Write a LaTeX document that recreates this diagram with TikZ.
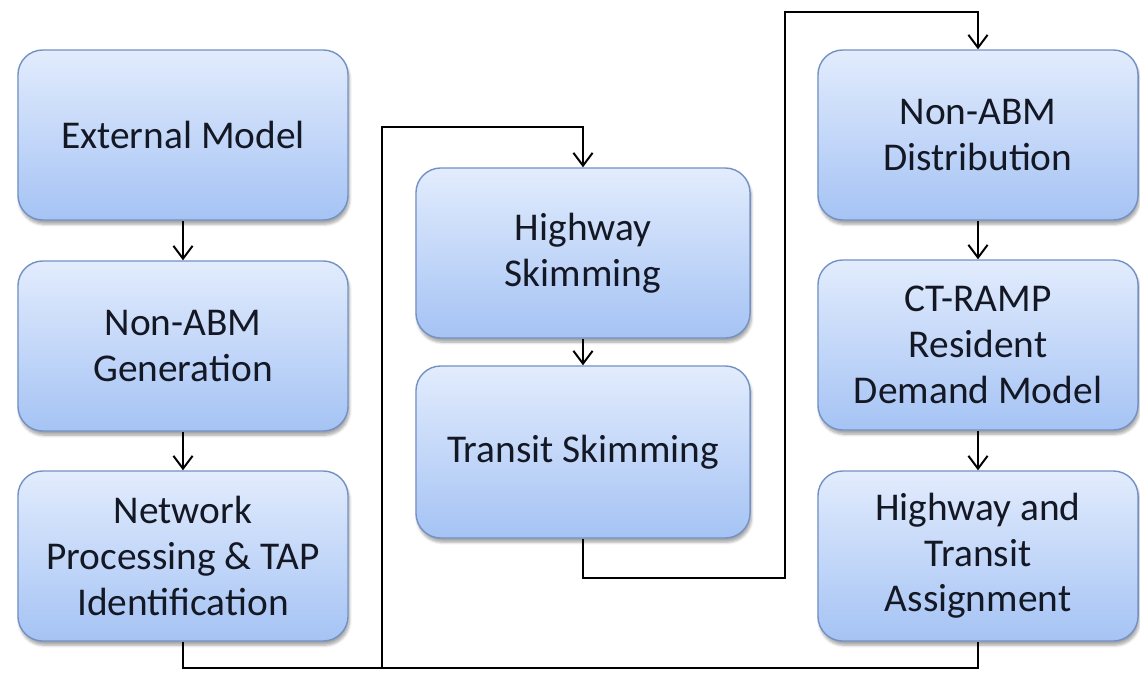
\documentclass[tikz,border=0pt]{standalone}
\usepackage{fontspec}
\setmainfont{Carlito}
\usepackage{tikz}
\usetikzlibrary{arrows.meta,positioning,shadows.blur}

\definecolor{boxtop}{HTML}{E2ECFD}
\definecolor{boxbot}{HTML}{A5C3F4}
\definecolor{boxline}{HTML}{7391C4}
\definecolor{txt}{HTML}{141824}

\tikzset{
  stage/.style={draw=boxline,line width=1pt,rounded corners=0.62cm,
    top color=boxtop,bottom color=boxbot,align=center,text=txt,
    font=\fontsize{28}{32.5}\selectfont,inner sep=0pt,
    blur shadow={shadow xshift=1pt,shadow yshift=-3pt,shadow blur steps=6,shadow opacity=35}},
  wide/.style={stage,minimum width=8.25cm,minimum height=4.25cm},
  link/.style={line width=1.4pt,black}
}

\begin{document}
\begin{tikzpicture}[x=0.025cm,y=-0.025cm,>={Straight Barb[length=3.2mm,width=4.8mm]}]

  \useasboundingbox (0,0) rectangle (1140,679);

  % first column
  \node[wide] (ext) at (183,135) {External Model};
  \node[wide] (gen) at (183,346) {Non-ABM\\Generation};
  \node[wide] (net) at (183,556) {Network\\Processing \& TAP\\Identification};

  % skims
  \node[wide,minimum width=8.35cm] (hwy) at (583,253) {Highway\\Skimming};
  \node[wide,minimum width=8.35cm,minimum height=4.3cm] (trn) at (583,452) {Transit Skimming};

  % last column
  \node[wide,minimum width=8cm] (dist) at (978,135) {Non-ABM\\Distribution};
  \node[wide,minimum width=8cm] (ramp) at (978,345) {CT-RAMP\\Resident\\Demand Model};
  \node[wide,minimum width=8cm] (asg) at (978,556) {Highway and\\Transit\\Assignment};

  \coordinate (bl) at (382,668);
  \coordinate (tl) at (382,127);
  \coordinate (mr) at (785,578);
  \coordinate (tr) at (785,12);

  \draw[link,->] (ext) -- (gen);
  \draw[link,->] (gen) -- (net);
  \draw[link,->] (net.south) |- (bl) -- (tl) -| (hwy.north);
  \draw[link] (asg.south) |- (bl);
  \draw[link,->] (hwy) -- (trn);
  \draw[link,->] (trn.south) |- (mr) -- (tr) -| (dist.north);
  \draw[link,->] (dist) -- (ramp);
  \draw[link,->] (ramp) -- (asg);

\end{tikzpicture}
\end{document}
